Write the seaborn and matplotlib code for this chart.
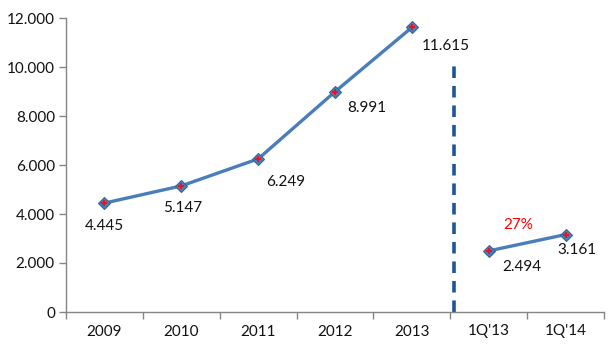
import matplotlib
matplotlib.use("Agg")
import matplotlib.pyplot as plt
import seaborn as sns
import pandas as pd
import numpy as np

categories = ["2009", "2010", "2011", "2012", "2013", "1Q'13", "1Q'14"]
annual_values = [4445, 5147, 6249, 8991, 11615]
quarter_values = [2494, 3161]
value_labels = ["4.445", "5.147", "6.249", "8.991", "11.615", "2.494", "3.161"]
growth_label = "27%"
y_ticks = [0, 2000, 4000, 6000, 8000, 10000, 12000]
y_tick_labels = ["0", "2.000", "4.000", "6.000", "8.000", "10.000", "12.000"]

sns.set_theme(style="white")
plt.rcParams["font.family"] = ["Lato", "DejaVu Sans"]

line_color = "#4a7ebb"
axis_color = "#868686"

annual = pd.DataFrame({"pos": np.arange(len(annual_values)), "value": annual_values, "seg": "annual"})
quarter = pd.DataFrame({"pos": np.arange(len(annual_values), len(categories)), "value": quarter_values, "seg": "quarter"})
df = pd.concat([annual, quarter], ignore_index=True)

fig = plt.figure(figsize=(6.15, 3.5), dpi=100)
ax = fig.add_axes([66 / 615, 1 - 312 / 350, 538 / 615, 294 / 350])

for seg, part in df.groupby("seg"):
    sns.lineplot(data=part, x="pos", y="value", ax=ax, color=line_color, linewidth=2.4,
                 marker="D", markersize=6.5, markerfacecolor=line_color,
                 markeredgecolor="#3b6496", markeredgewidth=0.8, legend=False)
    ax.scatter(part["pos"], part["value"], marker="P", s=14, color="#e8141e", zorder=5, linewidths=0)

# value annotations
offsets = [(0, -23), (1, -22), (28, -23), (32, -16), (34, -19), (33, -16), (11, -15)]
for i, (v, lab) in enumerate(zip(list(annual_values) + list(quarter_values), value_labels)):
    dx, dy = offsets[i]
    ax.annotate(lab, (i, v), xytext=(dx, dy), textcoords="offset points" if False else "offset pixels",
                ha="center", va="center", fontsize=11, color="#111111")

ax.annotate(growth_label, (5, quarter_values[0]), xytext=(30, 26), textcoords="offset pixels",
            ha="center", va="center", fontsize=11, color="#ff0000")

# separator between annual and quarterly data
ax.plot([4.55, 4.55], [0, 10250], linestyle=(0, (3.2, 2.2)), color="#1f5597", linewidth=2.6, zorder=1)

ax.set_xlim(-0.5, len(categories) - 0.5)
ax.set_ylim(0, 12000)
ax.set_yticks(y_ticks)
ax.set_yticklabels(y_tick_labels, fontsize=11, color="#111111")
ax.set_xticks(np.arange(-0.5, len(categories), 1.0))
ax.set_xticklabels([])
ax.set_xticks(np.arange(len(categories)), minor=True)
ax.set_xticklabels(categories, minor=True, fontsize=11, color="#111111")
ax.tick_params(axis="x", which="major", length=5, width=1, color=axis_color, direction="out", bottom=True)
ax.tick_params(axis="x", which="minor", length=0, pad=9)
ax.tick_params(axis="y", length=5, width=1, color=axis_color, direction="out", left=True, pad=3)
ax.set_xlabel("")
ax.set_ylabel("")

for side in ["top", "right"]:
    ax.spines[side].set_visible(False)
for side in ["left", "bottom"]:
    ax.spines[side].set_color(axis_color)
    ax.spines[side].set_linewidth(1)

fig.savefig("out.png", dpi=100)
